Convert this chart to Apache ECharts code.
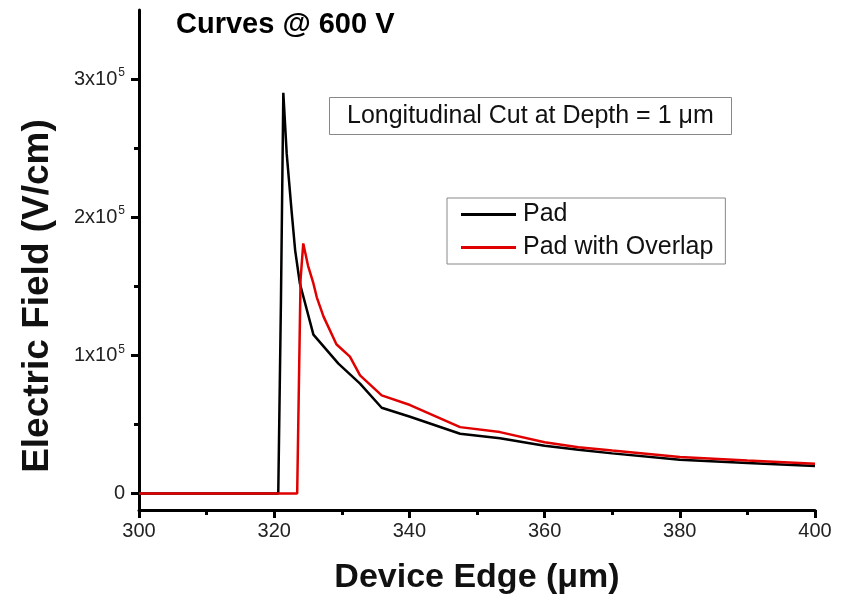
<!DOCTYPE html>
<html>
<head>
<meta charset="utf-8">
<script src="https://cdn.jsdelivr.net/npm/echarts@6/dist/echarts.min.js"></script>
<style>html,body{margin:0;padding:0;background:#fff;}#c{width:848px;height:600px;}</style>
</head>
<body>
<div id="c"></div>
<script>
// Data (x in µm, y in V/cm)
const padX = [300, 320.6, 321.0, 321.35, 321.85, 322.6, 323.1, 323.8, 325.8, 329.5, 332.7, 335.9, 340.1, 347.5, 353.4, 360, 365, 370, 380, 390, 400];
const padY = [0, 0, 140000, 290000, 246000, 203000, 176000, 152000, 115000, 94000, 79500, 62000, 55500, 43200, 40000, 34500, 31700, 29000, 24400, 22000, 19800];
const ovlX = [300, 323.4, 323.9, 324.3, 325.0, 325.8, 326.3, 327.3, 329.2, 331.2, 332.7, 335.9, 340.1, 347.5, 353.4, 360, 365, 370, 380, 390, 400];
const ovlY = [0, 0, 155000, 181000, 165000, 152000, 142000, 128000, 108000, 99000, 85500, 71000, 64000, 48000, 44400, 37000, 33500, 31000, 26300, 23800, 21500];
const yMajor = [0, 100000, 200000, 300000];
const yMinor = [50000, 150000, 250000];
const seriesNames = ['Pad', 'Pad with Overlap'];

const zip = (xs, ys) => xs.map((x, i) => [x, ys[i]]);
const yLabel = v => {
  if (v === 0) return '0';
  return '{b|' + Math.round(v / 100000) + 'x10}{s|5}';
};

const FF = 'Liberation Sans, Arial, sans-serif';
const chart = echarts.init(document.getElementById('c'), null, {renderer: 'canvas'});
chart.setOption({
  backgroundColor: '#fff',
  animation: false,
  title: [
    {text: 'Curves @ 600 V', left: 171, top: 5,
     textStyle: {fontFamily: FF, fontWeight: 'bold', fontSize: 29, color: '#000'}},
    {text: 'Longitudinal Cut at Depth = 1 μm', left: 329, top: 97,
     padding: [6, 18, 6, 18], borderColor: '#888', borderWidth: 1,
     textStyle: {fontFamily: FF, fontWeight: 'normal', fontSize: 25, color: '#111', lineHeight: 26}}
  ],
  legend: {
    orient: 'vertical', left: 447, top: 198,
    data: seriesNames.map(n => ({name: n, icon: 'rect'})),
    borderColor: '#888', borderWidth: 1,
    padding: [4, 12, 4, 14],
    itemWidth: 55, itemHeight: 3, itemGap: 8,
    textStyle: {fontFamily: FF, fontSize: 25, color: '#111', lineHeight: 25, padding: [0, 0, 0, 2]}
  },
  grid: {left: 139, right: 33, top: 10, bottom: 90, containLabel: false},
  xAxis: {
    type: 'value', min: 300, max: 400, interval: 20,
    name: 'Device Edge (μm)', nameLocation: 'middle', nameGap: 51,
    nameTextStyle: {fontFamily: FF, fontWeight: 'bold', fontSize: 34, color: '#111'},
    axisLine: {show: true, onZero: false, lineStyle: {color: '#000', width: 3}},
    axisTick: {show: true, inside: false, length: 8, lineStyle: {color: '#000', width: 3}},
    minorTick: {show: true, splitNumber: 2, length: 5, lineStyle: {color: '#000', width: 3}},
    axisLabel: {margin: 11, color: '#222', fontFamily: FF, fontSize: 20},
    splitLine: {show: false}
  },
  yAxis: [
    {
      type: 'value', min: -12000, max: 350000,
      name: 'Electric Field (V/cm)', nameLocation: 'middle', nameGap: 83,
      nameTextStyle: {fontFamily: FF, fontWeight: 'bold', fontSize: 37, color: '#111', padding: [0, 72, 0, 0]},
      axisLine: {show: true, onZero: false, lineStyle: {color: '#000', width: 3}},
      axisTick: {show: true, inside: false, length: 8, customValues: yMajor, lineStyle: {color: '#000', width: 3}},
      axisLabel: {
        customValues: yMajor, margin: 14, formatter: yLabel,
        color: '#222', fontFamily: FF, fontSize: 20,
        rich: {
          b: {color: '#222', fontFamily: FF, fontSize: 20},
          s: {color: '#222', fontFamily: FF, fontSize: 12, padding: [0, 0, 12, 1]}
        }
      },
      splitLine: {show: false}
    },
    {
      type: 'value', min: -12000, max: 350000, position: 'left',
      axisLine: {show: false, onZero: false},
      axisTick: {show: true, inside: false, length: 5, customValues: yMinor, lineStyle: {color: '#000', width: 3}},
      axisLabel: {show: false},
      splitLine: {show: false}
    }
  ],
  series: [
    {name: seriesNames[0], type: 'line', data: zip(padX, padY), symbol: 'none',
     lineStyle: {color: '#000', width: 2.5}, itemStyle: {color: '#000'}, z: 2},
    {name: seriesNames[1], type: 'line', data: zip(ovlX, ovlY), symbol: 'none',
     lineStyle: {color: '#e00000', width: 2.5}, itemStyle: {color: '#e00000'}, z: 3}
  ]
});
</script>
</body>
</html>
